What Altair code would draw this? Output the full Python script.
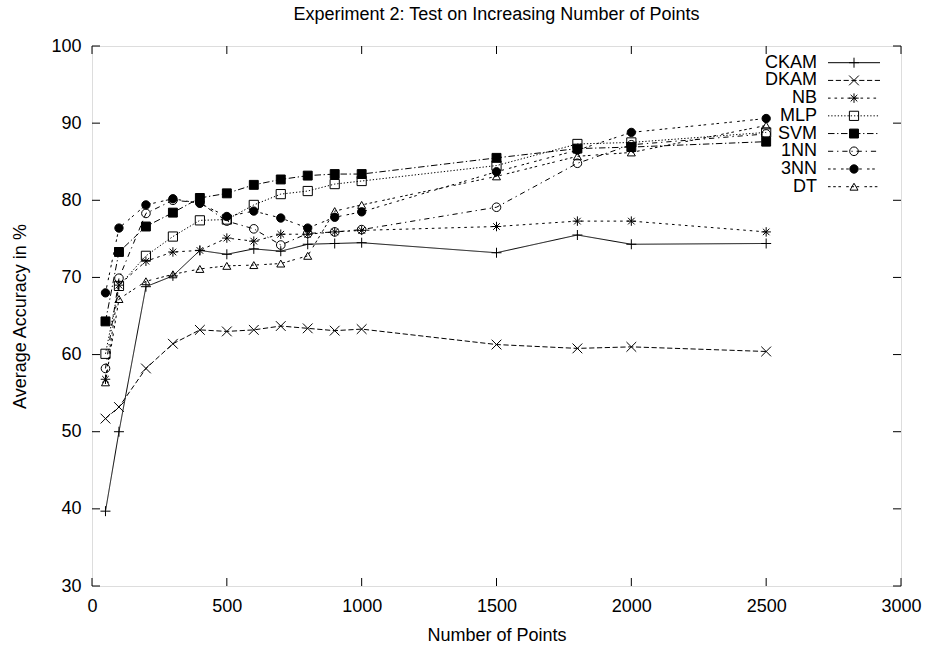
import altair as alt
import pandas as pd

# ---- data ----
x_points = [50, 100, 200, 300, 400, 500, 600, 700, 800, 900, 1000, 1500, 1800, 2000, 2500]
names = ["CKAM", "DKAM", "NB", "MLP", "SVM", "1NN", "3NN", "DT"]
ckam = [39.7, 50.0, 68.8, 70.2, 73.5, 73.0, 73.7, 73.4, 74.3, 74.4, 74.5, 73.2, 75.5, 74.3, 74.4]
dkam = [51.7, 53.2, 58.2, 61.4, 63.2, 63.0, 63.2, 63.7, 63.4, 63.1, 63.3, 61.3, 60.8, 61.0, 60.4]
nb = [56.8, 69.0, 72.1, 73.3, 73.5, 75.1, 74.7, 75.6, 75.6, 75.9, 76.1, 76.6, 77.3, 77.3, 75.9]
mlp = [60.1, 68.9, 72.8, 75.3, 77.4, 77.5, 79.4, 80.8, 81.2, 82.1, 82.5, 84.5, 87.3, 87.5, 88.8]
svm = [64.3, 73.3, 76.6, 78.4, 80.3, 80.9, 82.0, 82.7, 83.2, 83.4, 83.4, 85.5, 86.7, 86.9, 87.6]
nn1 = [58.2, 69.9, 78.3, 80.0, 79.7, 77.3, 76.3, 74.2, 75.7, 75.9, 76.2, 79.1, 84.8, 87.2, 88.6]
nn3 = [68.0, 76.4, 79.4, 80.2, 79.6, 77.9, 78.6, 77.7, 76.4, 77.8, 78.5, 83.7, 86.5, 88.8, 90.6]
dt = [56.4, 67.2, 69.5, 70.4, 71.1, 71.5, 71.6, 71.8, 72.8, 78.6, 79.4, 83.1, 85.7, 86.2, 89.7]
series_values = [ckam, dkam, nb, mlp, svm, nn1, nn3, dt]

x_ticks = [0, 500, 1000, 1500, 2000, 2500, 3000]
y_ticks = [30, 40, 50, 60, 70, 80, 90, 100]
title_text = ["Experiment 2: Test on Increasing Number of Points"]

# ---- tables ----
rows = []
for name, vals in zip(names, series_values):
    for xv, yv in zip(x_points, vals):
        rows.append({"series": name, "x": xv, "y": yv})
df = pd.DataFrame(rows)
legend_df = pd.DataFrame({"series": names, "rank": list(range(len(names)))})
xt = pd.DataFrame({"t": x_ticks})
yt = pd.DataFrame({"t": y_ticks})
title_df = pd.DataFrame({"title": title_text})

# ---- styles ----
FONT = "Liberation Sans"
FS = 18
W, H = 809, 540
dl = 1.3
dash_range = [
    [1, 0],
    [4 * dl, 2 * dl],
    [2 * dl, 3 * dl],
    [1 * dl, 1.5 * dl],
    [5 * dl, 2 * dl, 1 * dl, 2 * dl],
    [4 * dl, 3 * dl, 1 * dl, 3 * dl],
    [2 * dl, 2 * dl, 2 * dl, 4 * dl],
    [2 * dl, 2 * dl, 2 * dl, 2 * dl, 2 * dl, 4 * dl],
]
shape_range = [
    "M-1,0L1,0M0,-1L0,1",
    "M-1,-1L1,1M-1,1L1,-1",
    "M-1,0L1,0M0,-1L0,1M-0.7,-0.7L0.7,0.7M-0.7,0.7L0.7,-0.7",
    "square",
    "square",
    "circle",
    "circle",
    "triangle-up",
]
fill_range = ["transparent", "transparent", "transparent", "transparent",
              "black", "transparent", "black", "transparent"]

dash_scale = alt.Scale(domain=names, range=dash_range)
shape_scale = alt.Scale(domain=names, range=shape_range)
fill_scale = alt.Scale(domain=names, range=fill_range)
size_scale = alt.Scale(domain=names, range=[100, 64, 90, 64, 64, 81, 72, 81])

xscale = alt.Scale(domain=[0, 3000], nice=False, zero=False)
yscale = alt.Scale(domain=[30, 100], nice=False, zero=False)

xaxis = alt.Axis(values=x_ticks, format="d", ticks=False, tickSize=0, domain=False, grid=False,
                 labelPadding=11, labelFontSize=FS, labelFont=FONT, labelColor="black",
                 labelFlush=False, title="Number of Points", titleFontSize=FS,
                 titleFont=FONT, titleFontWeight="normal", titleColor="black",
                 titleY=54, titleBaseline="alphabetic")
yaxis = alt.Axis(values=y_ticks, format="d", ticks=False, tickSize=0, domain=False, grid=False,
                 labelPadding=11, labelFontSize=FS, labelFont=FONT, labelColor="black",
                 labelFlush=False, title="Average Accuracy in %", titleFontSize=FS,
                 titleFont=FONT, titleFontWeight="normal", titleColor="black",
                 titleX=-67, titleBaseline="alphabetic", titleAngle=270)

X = alt.X("x:Q", scale=xscale, axis=xaxis)
Y = alt.Y("y:Q", scale=yscale, axis=yaxis)

lines = alt.Chart(df).mark_line(color="black", strokeWidth=1).encode(
    x=X, y=Y,
    strokeDash=alt.StrokeDash("series:N", scale=dash_scale, legend=None),
    detail="series:N",
    order="x:Q",
)
points = alt.Chart(df).mark_point(stroke="black", strokeWidth=1, opacity=1).encode(
    x=X, y=Y,
    shape=alt.Shape("series:N", scale=shape_scale, legend=None),
    fill=alt.Fill("series:N", scale=fill_scale, legend=None),
    size=alt.Size("series:N", scale=size_scale, legend=None),
)

TL = 8
xt_bottom = alt.Chart(xt).mark_rule(color="black", strokeWidth=1).encode(
    x=alt.X("t:Q", scale=xscale, axis=xaxis), y=alt.value(H), y2=alt.value(H - TL))
xt_top = alt.Chart(xt).mark_rule(color="black", strokeWidth=1).encode(
    x=alt.X("t:Q", scale=xscale, axis=xaxis), y=alt.value(0), y2=alt.value(TL))
yt_left = alt.Chart(yt).mark_rule(color="black", strokeWidth=1).encode(
    y=alt.Y("t:Q", scale=yscale, axis=yaxis), x=alt.value(0), x2=alt.value(TL))
yt_right = alt.Chart(yt).mark_rule(color="black", strokeWidth=1).encode(
    y=alt.Y("t:Q", scale=yscale, axis=yaxis), x=alt.value(W), x2=alt.value(W - TL))

main = alt.layer(xt_bottom, xt_top, yt_left, yt_right, lines, points)

# ---- gnuplot-style key (top right, labels left of samples) ----
LY = alt.Y("rank:Q", scale=alt.Scale(domain=[0, len(names) - 1], range=[16.7, 140.7],
                                     nice=False, zero=False), axis=None)
key_text = alt.Chart(legend_df).mark_text(
    align="right", baseline="middle", fontSize=FS, font=FONT, color="black"
).encode(x=alt.value(725), y=LY, text="series:N")
key_line = alt.Chart(legend_df).mark_rule(color="black", strokeWidth=1).encode(
    x=alt.value(736), x2=alt.value(788), y=LY,
    strokeDash=alt.StrokeDash("series:N", scale=dash_scale, legend=None),
)
key_pts = alt.Chart(legend_df).mark_point(stroke="black", strokeWidth=1, opacity=1).encode(
    x=alt.value(762), y=LY,
    shape=alt.Shape("series:N", scale=shape_scale, legend=None),
    fill=alt.Fill("series:N", scale=fill_scale, legend=None),
    size=alt.Size("series:N", scale=size_scale, legend=None),
)
# chart title, centred above the plot area
title_mark = alt.Chart(title_df).mark_text(
    align="center", baseline="alphabetic", fontSize=FS, font=FONT, color="black"
).encode(x=alt.value(W / 2), y=alt.value(-26.5), text="title:N")

key = alt.layer(key_line, key_pts, key_text, title_mark)

chart = alt.layer(main, key).resolve_scale(y="independent").properties(
    width=W, height=H,
    autosize=alt.AutoSizeParams(type="none"),
    padding={"left": 92, "top": 46, "right": 29, "bottom": 60},
).configure_view(stroke="black", strokeWidth=1).configure(background="white")

chart.save("out.html", embed_options={"renderer": "svg", "actions": False})
